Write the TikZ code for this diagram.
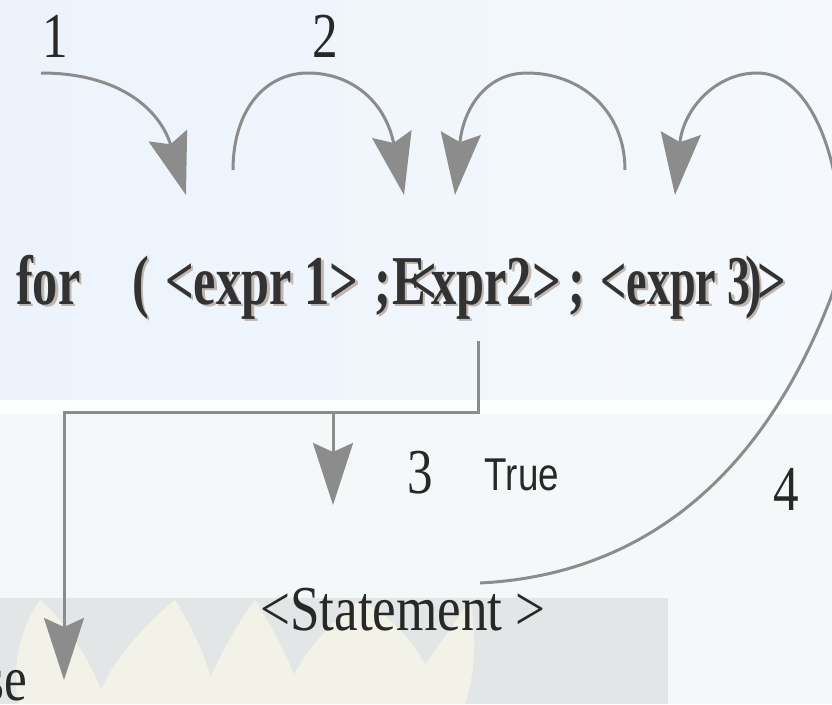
\documentclass[tikz,border=0pt]{standalone}
\usepackage{fontspec}
\setmainfont{Liberation Serif}
\newfontfamily\labelsans{Liberation Sans}
\usetikzlibrary{arrows.meta}

\definecolor{linegray}{RGB}{140,140,140}
\definecolor{inkdark}{RGB}{50,50,50}
\definecolor{inktext}{RGB}{40,40,40}
\definecolor{shadowtan}{RGB}{192,182,176}
\definecolor{bgtop}{RGB}{236,243,251}
\definecolor{bgmid}{RGB}{245,249,253}
\definecolor{bglow}{RGB}{245,248,249}
\definecolor{photogray}{RGB}{227,230,230}
\definecolor{petal}{RGB}{243,242,232}

% horizontally condensed text
\newcommand{\narrow}[2]{\scalebox{#1}[1]{#2}}
\newcommand{\codesize}{\fontsize{70}{70}\selectfont\bfseries}
\newcommand{\cw}{0.72}

% the header line of the loop, typeset piece by piece
\newcommand{\codepieces}[1]{%
  \node[#1] (kw)    at (16,304)  {\narrow{\cw}{for}};
  \node[#1] (lpar)  at (132,304) {\narrow{\cw}{(}};
  \node[#1] (ex1)   at (165,304) {\narrow{\cw}{<expr 1>}};
  \node[#1] (sem1)  at (374,304) {\narrow{\cw}{;}};
  \node[#1] (capE)  at (392,304) {\narrow{\cw}{E}};
  \node[#1] (lt2)   at (408,304) {\narrow{\cw}{<}};
  \node[#1] (ex2)   at (431,304) {\narrow{\cw}{xpr2>}};
  \node[#1] (sem2)  at (568,304) {\narrow{\cw}{;}};
  \node[#1] (ex3)   at (600,304) {\narrow{0.66}{<expr 3}};
  \node[#1] (rpar)  at (745,304) {\narrow{\cw}{)}};
  \node[#1] (gt3)   at (757,304) {\narrow{\cw}{>}};
}

\begin{document}
\begin{tikzpicture}[x=1pt,y=-1pt,
  conn/.style={draw=linegray, line width=3pt},
  bighead/.style={-{Stealth[length=62pt,width=40pt,inset=9pt]}},
  codetext/.style={inner sep=0pt, anchor=base west, font=\codesize, text=inkdark},
  codeshadow/.style={inner sep=0pt, anchor=base west, font=\codesize, text=shadowtan, xshift=2.5pt, yshift=-2.5pt},
  numlabel/.style={inner sep=0pt, anchor=base, font=\fontsize{64}{64}\selectfont, text=inktext},
  plainlabel/.style={inner sep=0pt, font=\fontsize{64}{64}\selectfont, text=inktext},
  truelabel/.style={inner sep=0pt, anchor=base, font=\labelsans\fontsize{46}{46}\selectfont, text=inktext},
]
\useasboundingbox (0,0) rectangle (832,704);
\begin{scope}
\clip (0,0) rectangle (832,704);

% background
\fill[left color=bgtop, right color=bgmid] (0,0) rectangle (832,400);
\fill[white!80!bglow] (0,400) rectangle (832,414);
\fill[bglow] (0,414) rectangle (832,704);
\fill[photogray] (0,598) rectangle (668,704);
\fill[petal] (18,704) .. controls (10,660) and (25,620) .. (40,600)
  .. controls (75,630) and (100,680) .. (105,704) -- cycle;
\fill[petal] (95,704) .. controls (110,660) and (150,620) .. (175,600)
  .. controls (200,640) and (215,680) .. (215,704) -- cycle;
\fill[petal] (200,704) .. controls (215,660) and (240,620) .. (255,600)
  .. controls (280,640) and (300,680) .. (300,704) -- cycle;
\fill[petal] (280,704) .. controls (300,650) and (340,615) .. (360,600)
  .. controls (400,620) and (430,660) .. (440,704) -- cycle;
\fill[petal] (400,704) .. controls (420,670) and (450,630) .. (470,600)
  .. controls (480,650) and (470,690) .. (465,704) -- cycle;

% header text with its soft shadow
\codepieces{codeshadow}
\codepieces{codetext}

% labels
\node[numlabel] (n1) at (55,57) {\narrow{0.8}{1}};
\node[numlabel] (n2) at (325,57) {\narrow{0.8}{2}};
\node[numlabel] (n3) at (420,493) {\narrow{0.8}{3}};
\node[numlabel] (n4) at (786,510) {\narrow{0.8}{4}};
\node[truelabel] (tr) at (522,490) {\narrow{0.8}{True}};
\node[plainlabel, anchor=base] (stmt) at (403,630) {\narrow{0.83}{<Statement >}};
\node[plainlabel, anchor=base east] (fls) at (27,700) {\narrow{0.8}{False}};

% end points of the connectors
\coordinate (a1s) at (41,73);
\coordinate (a1t) at (186,195);
\coordinate (a2s) at (233,170);
\coordinate (a2top) at (308,73);
\coordinate (a2t) at (404,195);
\coordinate (a3s) at (625,170);
\coordinate (a3top) at (527,73);
\coordinate (a3t) at (455,195);
\coordinate (a4s) at (480,583);
\coordinate (a4r) at (830,300);
\coordinate (a4top) at (757,73);
\coordinate (a4t) at (675,195);
\coordinate (cond) at (478,341);
\coordinate (split) at (478,412);
\coordinate (truetap) at (333,412);
\coordinate (truetip) at (333,505);
\coordinate (fcorner) at (64,412);
\coordinate (ftip) at (64,680);

% step arrows over the header
\draw[conn, bighead] (a1s) .. controls (120,73) and (160,110) .. (a1t);
\draw[conn, bighead] (a2s) .. controls (233,110) and (265,73) .. (a2top)
  .. controls (350,73) and (385,100) .. (a2t);
\draw[conn, bighead] (a3s) .. controls (625,110) and (580,73) .. (a3top)
  .. controls (485,73) and (463,110) .. (a3t);
\draw[conn, bighead] (a4s) .. controls (640,575) and (760,480) .. (a4r)
  .. controls (857,230) and (830,73) .. (a4top)
  .. controls (715,73) and (683,110) .. (a4t);

% condition branches
\draw[conn] (cond) -- (split) -- (truetap);
\draw[conn, bighead] (truetap) -- (truetip);
\draw[conn, bighead] (truetap) -- (fcorner) -- (ftip);
\end{scope}
\end{tikzpicture}
\end{document}
